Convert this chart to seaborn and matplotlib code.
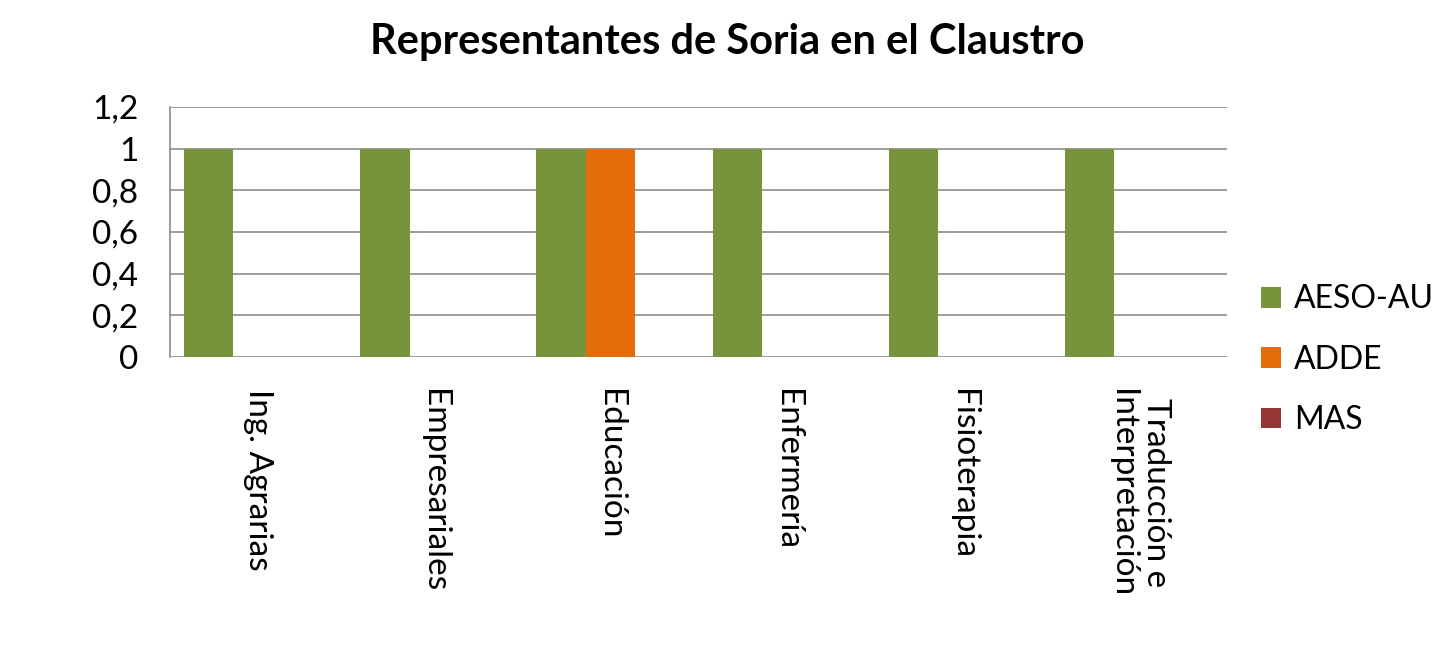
import pandas as pd
import matplotlib.pyplot as plt
import seaborn as sns
from matplotlib.ticker import FuncFormatter

# datos
centros = ['Ing. Agrarias', 'Empresariales', 'Educación', 'Enfermería',
           'Fisioterapia', 'Traducción e\nInterpretación']
partidos = ['AESO-AU', 'ADDE', 'MAS']
aeso_au = [1, 1, 1, 1, 1, 1]
adde = [0, 0, 1, 0, 0, 0]
mas = [0, 0, 0, 0, 0, 0]
colores = ['#77933C', '#E46C0A', '#953735']

df = pd.DataFrame({
    'centro': centros * 3,
    'partido': [partidos[0]] * 6 + [partidos[1]] * 6 + [partidos[2]] * 6,
    'valor': aeso_au + adde + mas,
})

sns.set_style('white')
plt.rcParams['font.family'] = ['Lato', 'DejaVu Sans']
plt.rcParams['text.color'] = 'black'
plt.rcParams['xtick.color'] = 'black'
plt.rcParams['ytick.color'] = 'black'

fig = plt.figure(figsize=(14.55, 6.46), dpi=100)
ax = fig.add_axes([0.1168, 0.4474, 0.7265, 0.3870])

sns.barplot(data=df, x='centro', y='valor', hue='partido', palette=colores,
            width=0.84, gap=0, saturation=1, linewidth=0, ax=ax, legend=True)

ax.set_ylim(0, 1.2)
ax.set_yticks([0, 0.2, 0.4, 0.6, 0.8, 1.0, 1.2])
ax.yaxis.set_major_formatter(FuncFormatter(lambda v, p: f'{v:g}'.replace('.', ',')))
ax.grid(axis='y', color='#8c8c8c', linewidth=1.2)
ax.set_axisbelow(True)
sns.despine(ax=ax, top=True, right=True, bottom=True)
ax.spines['left'].set_color('#8c8c8c')
ax.spines['left'].set_linewidth(1.2)
ax.tick_params(axis='y', length=8.6, width=1.2, color='#8c8c8c', labelcolor='black',
               pad=14, labelsize=24)
ax.tick_params(axis='x', length=0, pad=23, labelsize=24, labelcolor='black')
for lbl in ax.get_xticklabels():
    lbl.set_rotation(-90)
    lbl.set_va('top')
    lbl.set_ha('center')
    lbl.set_multialignment('center')
ax.set_xlabel('')
ax.set_ylabel('')

fig.suptitle('Representantes de Soria en el Claustro', fontsize=30, fontweight='bold',
             color='black', x=0.5, y=0.965)

handles, labels = ax.get_legend_handles_labels()
ax.legend_.remove()
fig.legend(handles, labels, loc='center left', bbox_to_anchor=(0.858, 0.443),
           frameon=False, fontsize=23, handlelength=0.62, handleheight=0.62,
           handletextpad=0.4, labelspacing=0.95, borderaxespad=0)

fig.savefig('out.png', dpi=100)
